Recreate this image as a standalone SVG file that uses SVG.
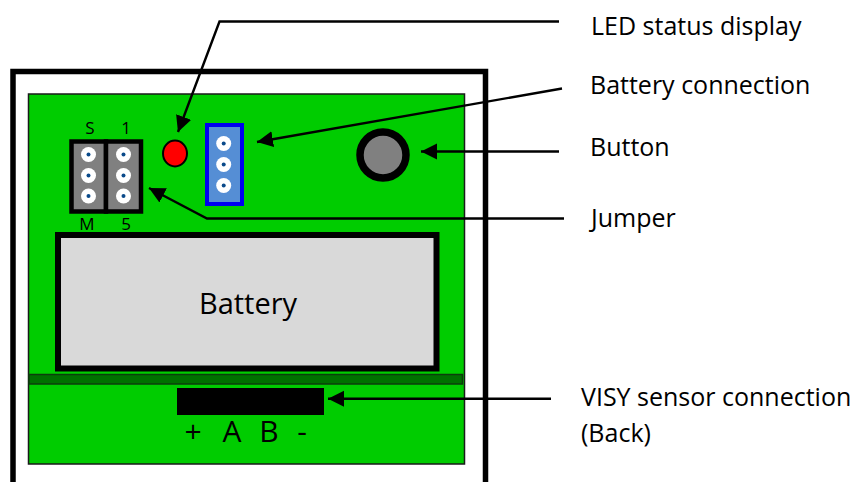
<svg xmlns="http://www.w3.org/2000/svg" width="858" height="482" viewBox="0 0 858 482">
<style>
text{font-family:"Open Sans","Noto Sans","Liberation Sans",sans-serif;fill:#000}
.lb{font-size:25px}
.pin{font-size:17px;text-anchor:middle}
.term{font-size:30px;text-anchor:middle}
.c{fill:none;stroke:#000;stroke-width:2.4;marker-end:url(#a)}
.hw{fill:#fff}
.hc{fill:#0a4a8a}
.jp{fill:#808080;stroke:#000;stroke-width:4.5}
</style>
<defs>
<marker id="a" markerUnits="userSpaceOnUse" markerWidth="17" markerHeight="17" refX="16" refY="8" orient="auto"><path d="M0,0L16,8L0,16Z" fill="#000"/></marker>
<g id="h"><circle r="7.5" class="hw"/><circle r="2" class="hc"/></g>
</defs>
<g id="housing"><path d="M13,482V71.5H485.5V482" fill="none" stroke="#000" stroke-width="5.5"/></g>
<g id="board"><rect x="28.500" y="94" width="436" height="370" fill="#00cc00" stroke="#1a1a1a" stroke-width="1.5"/></g>
<g id="strip"><rect x="29" y="374.500" width="433.500" height="9.500" fill="#007000" stroke="#0d3d0d" stroke-width="1.5"/></g>
<g id="battery"><rect x="58" y="235" width="378.500" height="133.500" fill="#d9d9d9" stroke="#000" stroke-width="6"/><text x="248" y="313.500" font-size="29" text-anchor="middle">Battery</text></g>
<g id="jumper">
<rect x="71.500" y="141.500" width="34.500" height="70" class="jp"/><rect x="106" y="141.500" width="35" height="70" class="jp"/>
<use href="#h" x="88.500" y="154.500"/><use href="#h" x="88.500" y="175.500"/><use href="#h" x="88.500" y="196"/>
<use href="#h" x="123.500" y="154.500"/><use href="#h" x="123.500" y="175.500"/><use href="#h" x="123.500" y="196"/>
<text class="pin" x="90" y="134">S</text><text class="pin" x="126" y="134">1</text><text class="pin" x="87" y="230">M</text><text class="pin" x="126" y="230">5</text>
</g>
<g id="led"><ellipse cx="175" cy="153.500" rx="12" ry="13" fill="#f00" stroke="#000" stroke-width="2"/></g>
<g id="battery-connector"><rect x="207" y="125" width="35" height="79" fill="#558ed5" stroke="#0000f0" stroke-width="4"/>
<use href="#h" x="223.700" y="143.500"/><use href="#h" x="223.700" y="164.500"/><use href="#h" x="223.700" y="185.500"/></g>
<g id="button"><circle cx="383" cy="155" r="23" fill="#808080" stroke="#000" stroke-width="7.500"/></g>
<g id="sensor-connection"><rect x="177" y="388" width="147" height="27"/>
<text class="term" x="193" y="442">+</text><text class="term" x="232" y="442">A</text><text class="term" x="269" y="442">B</text><text class="term" x="302" y="442">-</text></g>
<g id="connectors">
<path class="c" d="M559,21.500H219.500L178,132"/>
<path class="c" d="M562,88.500L257,142"/>
<path class="c" d="M559,151.500H421"/>
<path class="c" d="M564,218.500H207L149,188"/>
<path class="c" d="M551,398.700H328"/>
</g>
<g id="labels">
<text class="lb" x="591" y="34.500">LED status display</text>
<text class="lb" x="590" y="94">Battery connection</text>
<text class="lb" x="590" y="156">Button</text>
<text class="lb" x="591" y="227">Jumper</text>
<text class="lb" x="581" y="406">VISY sensor connection</text>
<text class="lb" x="581" y="442">(Back)</text>
</g>
</svg>
